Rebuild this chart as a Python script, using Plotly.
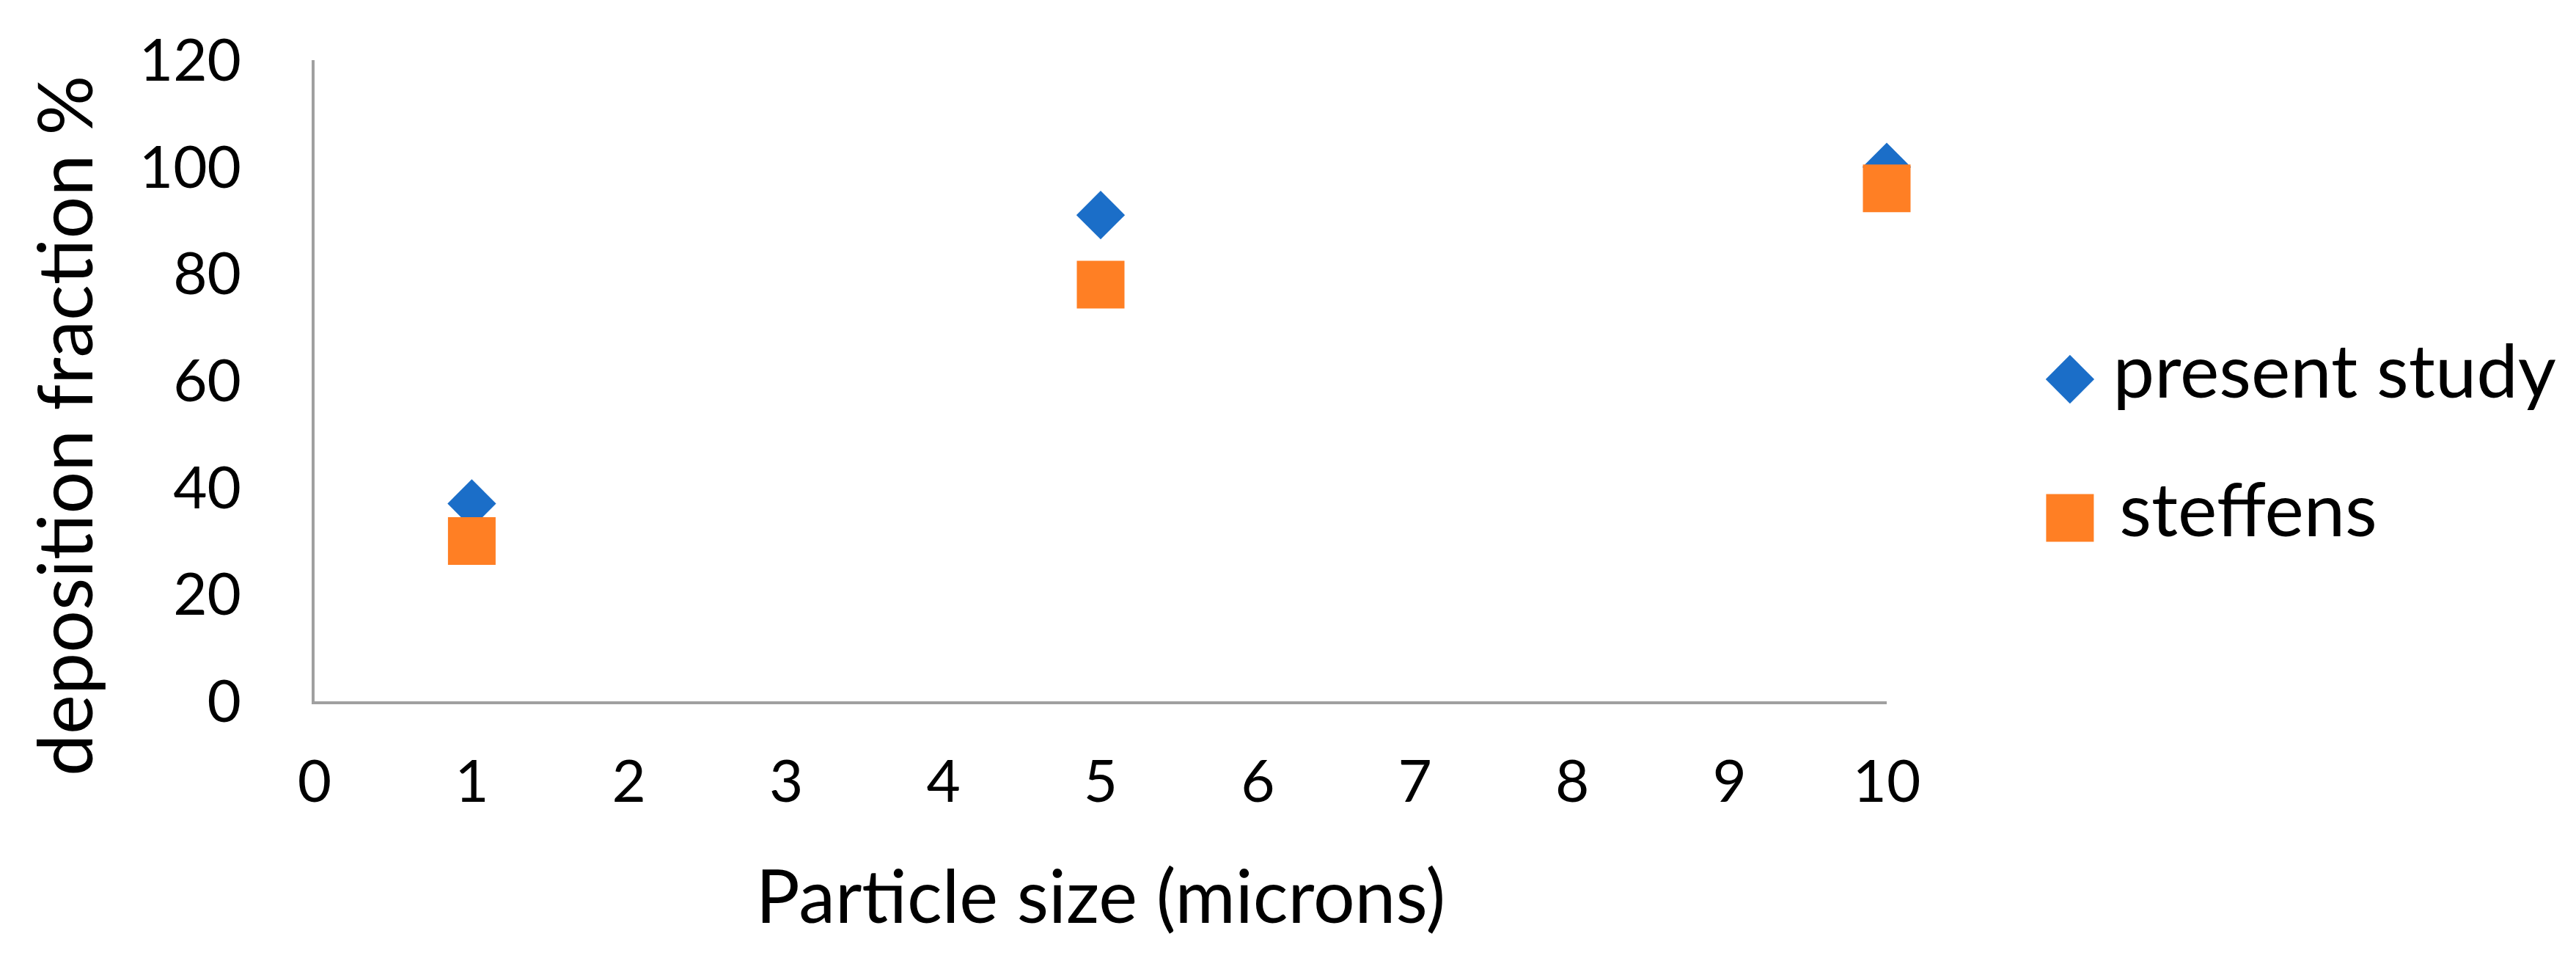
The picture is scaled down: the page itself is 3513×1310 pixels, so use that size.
import plotly.graph_objects as go

particle_size = [1, 5, 10]
present_study = [37, 91, 100]
steffens = [30, 78, 96]
series_names = ['present study', 'steffens']
series_colors = ['#1B6EC8', '#FF7F24']
series_symbols = ['diamond', 'square']
series_sizes = [51, 65]

W, H = 3513, 1310
FONT = 'Lato, Carlito, sans-serif'

fig = go.Figure()

for name, vals, col, sym, sz in zip(series_names, [present_study, steffens],
                                    series_colors, series_symbols, series_sizes):
    fig.add_trace(go.Scatter(x=particle_size, y=vals, mode='markers', name=name,
                             marker=dict(symbol=sym, size=sz, color=col, line=dict(width=0)),
                             cliponaxis=False, showlegend=False))

# legend drawn on a small helper axis so the keys keep the real marker size
for i, (name, col, sym, sz) in enumerate(zip(series_names, series_colors,
                                              series_symbols, series_sizes)):
    fig.add_trace(go.Scatter(x=[0], y=[len(series_names) - 1 - i], mode='markers+text',
                             text=[' ' + name], textposition='middle right',
                             textfont=dict(size=101, color='black', family=FONT),
                             marker=dict(symbol=sym, size=sz, color=col, line=dict(width=0)),
                             cliponaxis=False, xaxis='x2', yaxis='y2',
                             showlegend=False, hoverinfo='skip'))

axis_col = '#A0A0A0'
fig.update_layout(
    width=W, height=H,
    margin=dict(l=0, r=0, t=0, b=0),
    paper_bgcolor='white', plot_bgcolor='white',
    font=dict(family=FONT, color='black', size=80),
    xaxis=dict(domain=[421 / W, 2565 / W], range=[0, 10], tickvals=list(range(11)),
               showgrid=False, zeroline=False, showline=True, linecolor=axis_col, linewidth=4,
               ticks='', ticklabelstandoff=37, automargin=False,
               title=dict(text='Particle size (microns)', font=dict(size=100), standoff=80)),
    yaxis=dict(domain=[1 - 948 / H, 1 - 74 / H], range=[0, 120], tickvals=list(range(0, 121, 20)),
               showgrid=False, zeroline=False, showline=True, linecolor=axis_col, linewidth=4,
               ticks='', ticklabelstandoff=80, automargin=False),
    xaxis2=dict(domain=[2780 / W, 1], range=[-0.5, 10], visible=False, fixedrange=True),
    yaxis2=dict(domain=[1 - 792.5 / H, 1 - 414.5 / H], range=[-0.5, 1.5], visible=False,
                fixedrange=True, anchor='x2'),
    annotations=[dict(text='deposition fraction %', textangle=-90, x=78 / W, y=1 - 573 / H,
                      xref='paper', yref='paper', xanchor='center', yanchor='middle',
                      showarrow=False, font=dict(size=102, family=FONT, color='black'))],
)

fig.write_html('out.html')
